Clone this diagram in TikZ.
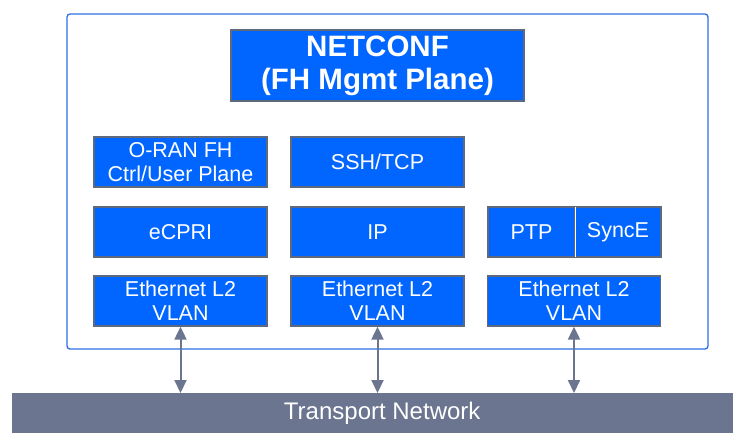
\documentclass[tikz,border=0pt]{standalone}
\usepackage{fontspec}
\setmainfont{Liberation Sans}
\usetikzlibrary{arrows.meta,calc}
\definecolor{boxblue}{RGB}{0,102,255}
\definecolor{boxedge}{RGB}{95,105,125}
\definecolor{outerblue}{RGB}{45,110,230}
\definecolor{transport}{RGB}{107,117,144}
\tikzset{
  layer/.style={draw=boxedge, line width=1.3pt, fill=boxblue, text=white, minimum width=173pt, minimum height=50pt, inner sep=0pt, align=center, font=\fontsize{21.5}{24}\selectfont},
  updown/.style={draw=transport, line width=2pt, {Triangle[width=12pt,length=13pt]}-{Triangle[width=12pt,length=13pt]}}
}
\begin{document}
\begin{tikzpicture}[x=1pt,y=-1pt]
\useasboundingbox (0,0) rectangle (733,432);
\draw[draw=outerblue, line width=1.3pt, rounded corners=3pt] (67,14) rectangle (708,349);
\node[layer, minimum width=293pt, minimum height=71pt, font=\bfseries\fontsize{29.5}{33}\selectfont] (nc) at (377.5,65.5) {NETCONF\\(FH Mgmt Plane)};
\node[layer] (oran) at (180.5,162) {O-RAN FH\\Ctrl/User Plane};
\node[layer] (ssh) at (377.5,162) {SSH/TCP};
\node[layer] (ecpri) at (180.5,232) {eCPRI};
\node[layer] (ip) at (377.5,232) {IP};
\node[layer, minimum width=87pt] (ptp) at (531.5,232) {PTP};
\node[layer, minimum width=86pt] (synce) at (618,232) {SyncE};
\draw[white, line width=1pt] ($(ptp.north east)+(0,1)$) -- ($(ptp.south east)+(0,-1)$);
\node[layer] (eth1) at (180.5,301) {Ethernet L2\\VLAN};
\node[layer] (eth2) at (377.5,301) {Ethernet L2\\VLAN};
\node[layer] (eth3) at (574,301) {Ethernet L2\\VLAN};
\node[fill=transport, text=white, minimum width=740pt, minimum height=40pt, inner sep=0pt, anchor=north west, font=\fontsize{24}{28}\selectfont] (tn) at (12,393) {Transport Network};
\draw[updown] (eth1.south) -- (eth1.south |- tn.north);
\draw[updown] (eth2.south) -- (eth2.south |- tn.north);
\draw[updown] (eth3.south) -- (eth3.south |- tn.north);
\end{tikzpicture}
\end{document}
